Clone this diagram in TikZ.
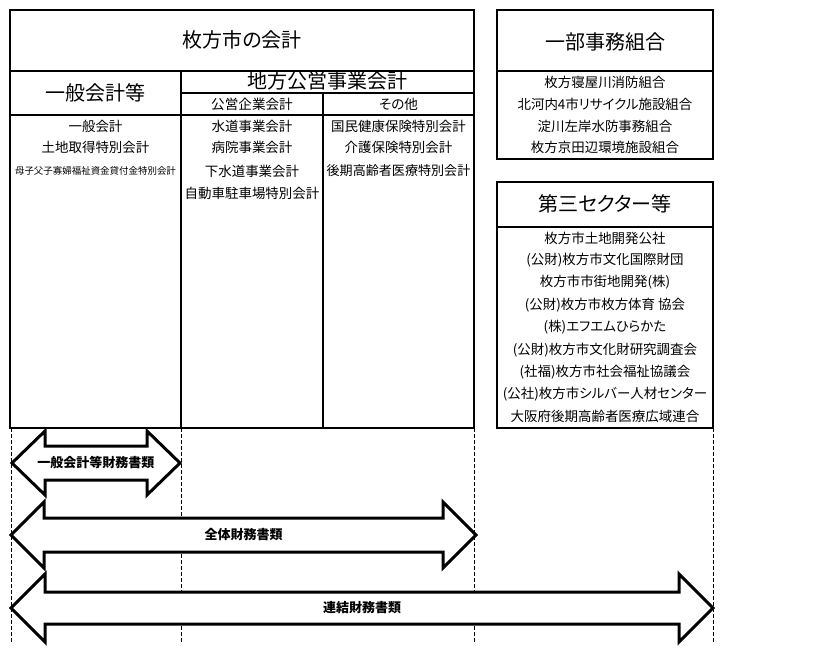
\documentclass[tikz,border=0pt]{standalone}
\usepackage{fontspec}
\setmainfont[RawFeature=+palt]{Noto Sans CJK JP}
\newcommand{\dblfatarrow}[7]{% name, xl, xr, yc, shaft half, head half, head length
  \path[fatarrow] (#2,#4) -- ({#2+#7},{#4-#6}) -- ({#2+#7},{#4-#5}) -- ({#3-#7},{#4-#5})
    -- ({#3-#7},{#4-#6}) -- (#3,#4) -- ({#3-#7},{#4+#6}) -- ({#3-#7},{#4+#5})
    -- ({#2+#7},{#4+#5}) -- ({#2+#7},{#4+#6}) -- cycle;
  \coordinate (#1) at ({(#2+#3)/2},#4);}
\begin{document}
\begin{tikzpicture}[x=0.75pt,y=-0.75pt,
  outerbox/.style={draw, line width=1.5pt},
  divthick/.style={line width=1.5pt},
  divthin/.style={line width=1.1pt},
  hdr/.style={font=\fontsize{15}{18}\selectfont, inner sep=0pt},
  subhdr/.style={font=\fontsize{10.2}{12}\selectfont, inner sep=0pt},
  itemtxt/.style={font=\fontsize{10.1}{12}\selectfont, inner sep=0pt},
  tighttxt/.style={font=\fontsize{9.8}{12}\selectfont, inner sep=0pt},
  smalltxt/.style={font=\fontsize{7.1}{8}\selectfont, inner sep=0pt},
  alabel/.style={font=\bfseries\fontsize{9.75}{11}\selectfont, inner sep=0pt},
  guide/.style={line width=0.75pt, dash pattern=on 3pt off 1.5pt},
  fatarrow/.style={draw, fill=white, line width=2.25pt, line join=miter, miter limit=10}]
\useasboundingbox (0,0) rectangle (819,662);

% guide lines
\draw[guide] (11,428) -- (11,644);
\draw[guide] (181,428) -- (181,644);
\draw[guide] (474,428) -- (474,644);
\draw[guide] (713,428) -- (713,644);

% main box
\draw[outerbox] (10,10) rectangle (474,428);
\draw[divthick] (10,71) -- (474,71);
\draw[divthick] (10,115) -- (474,115);
\draw[divthick] (181,71) -- (181,428);
\draw[divthin] (181,93) -- (474,93);
\draw[divthin] (323,93) -- (323,428);

\node[hdr] (title) at (242,40) {枚方市の会計};
\node[hdr] (hgen) at (95.5,93) {一般会計等};
\node[hdr] (hchiho) at (327.5,81) {地方公営事業会計};
\node[subhdr] (hkoei) at (252,104) {公営企業会計};
\node[subhdr] (hother) at (398.5,104) {その他};

\node[itemtxt] (g1) at (95.5,126) {一般会計};
\node[itemtxt] (g2) at (95.5,147) {土地取得特別会計};
\node[smalltxt] (g3) at (95.5,171) {母子父子寡婦福祉資金貸付金特別会計};

\node[itemtxt] (k1) at (252,126) {水道事業会計};
\node[itemtxt] (k2) at (252,147) {病院事業会計};
\node[itemtxt] (k3) at (252,171) {下水道事業会計};
\node[itemtxt] (k4) at (252,193) {自動車駐車場特別会計};

\node[itemtxt] (o1) at (398.5,126) {国民健康保険特別会計};
\node[itemtxt] (o2) at (398.5,147) {介護保険特別会計};
\node[tighttxt] (o3) at (398.5,171) {後期高齢者医療特別会計};

% right box 1
\draw[outerbox] (497,10) rectangle (713,159);
\draw[divthick] (497,71) -- (713,71);
\node[hdr] (hbu) at (605,42) {一部事務組合};
\node[itemtxt] (b1) at (605,82) {枚方寝屋川消防組合};
\node[itemtxt] (b2) at (605,104) {北河内4市リサイクル施設組合};
\node[itemtxt] (b3) at (605,126) {淀川左岸水防事務組合};
\node[itemtxt] (b4) at (605,147) {枚方京田辺環境施設組合};

% right box 2
\draw[outerbox] (497,182) rectangle (713,428);
\draw[divthick] (497,227) -- (713,227);
\node[hdr] (hsec) at (605,204) {第三セクター等};
\node[itemtxt] (s1) at (605,238) {枚方市土地開発公社};
\node[itemtxt] (s2) at (605,260) {(公財)枚方市文化国際財団};
\node[itemtxt] (s3) at (605,282) {枚方市市街地開発(株)};
\node[itemtxt] (s4) at (605,305) {(公財)枚方市枚方体育 協会};
\node[itemtxt] (s5) at (605,327) {(株)エフエムひらかた};
\node[itemtxt] (s6) at (605,350) {(公財)枚方市文化財研究調査会};
\node[itemtxt] (s7) at (605,372) {(社福)枚方市社会福祉協議会};
\node[itemtxt] (s8) at (605,394) {(公社)枚方市シルバー人材センター};
\node[itemtxt] (s9) at (605,416) {大阪府後期高齢者医療広域連合};

% fat arrows
\dblfatarrow{a1}{12}{180}{463}{17}{32}{33}
\node[alabel] (a1lab) at (a1) {一般会計等財務書類};
\dblfatarrow{a2}{11}{476}{535}{17}{33}{33}
\node[alabel] (a2lab) at (a2) {全体財務書類};
\dblfatarrow{a3}{11}{713}{608}{16}{34}{34}
\node[alabel] (a3lab) at (a3) {連結財務書類};
\end{tikzpicture}
\end{document}
